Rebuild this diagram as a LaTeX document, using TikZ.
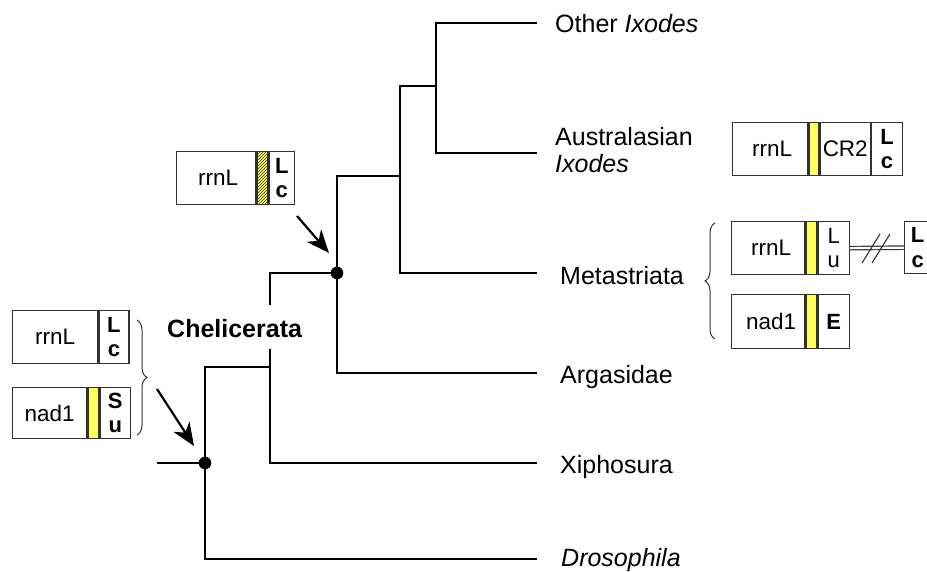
\documentclass[tikz,border=0pt]{standalone}
\usepackage{fontspec}
\setmainfont{Liberation Sans}
\usetikzlibrary{arrows.meta,decorations.pathreplacing,patterns}
\definecolor{gy}{RGB}{255,255,95}
\definecolor{bx}{RGB}{50,50,50}
\begin{document}
\begin{tikzpicture}[x=1pt,y=-1pt,
  tree/.style={line width=2.2pt, line join=miter},
  arr/.style={line width=2.2pt, -{Stealth[length=23pt,width=19pt,inset=7pt]}},
  lab/.style={anchor=base west, inner sep=0pt, font=\fontsize{25}{28}\selectfont},
  cell/.style={draw=bx, line width=1.3pt, minimum height=53pt, inner sep=0pt, anchor=north west, font=\fontsize{22.5}{26}\selectfont},
  yel/.style={cell, fill=gy, minimum width=11pt},
  hatch/.style={cell, fill=gy, minimum width=11pt, postaction={pattern=north east lines, pattern color=black!80}},
  bold/.style={cell, align=center, font=\bfseries\fontsize{22}{24.5}\selectfont},
  plain2/.style={cell, align=center, font=\fontsize{22}{24.5}\selectfont},
  brc/.style={draw=bx, line width=1pt, decorate, decoration={brace, amplitude=10pt}}]
\useasboundingbox (0,0) rectangle (927,571);
\clip (0,0) rectangle (927,571);

% tree coordinates
\coordinate (stub) at (157,463);
\coordinate (root) at (205,463);
\coordinate (chelj) at (270,367);
\coordinate (cgapA) at (270,305);
\coordinate (cgapB) at (270,349);
\coordinate (tick) at (337,273);
\coordinate (ixj) at (400,176);
\coordinate (ixoj) at (436,86);
\coordinate (eOther) at (537,23);
\coordinate (eAus) at (537,153);
\coordinate (eMeta) at (537,273);
\coordinate (eArg) at (537,373);
\coordinate (eXiph) at (537,463);
\coordinate (eDros) at (537,559);

% labels
\node[lab] (lOther) at (555,32) {Other \textit{Ixodes}};
\node[lab] (lAus) at (555,145) {Australasian};
\node[lab] (lAus2) at (555,172) {\textit{Ixodes}};
\node[lab] (lMeta) at (560,284) {Metastriata};
\node[lab] (lArg) at (560,383) {Argasidae};
\node[lab] (lXiph) at (560,473) {Xiphosura};
\node[lab] (lDros) at (561,566) {\textit{Drosophila}};
\node[lab, font=\bfseries\fontsize{25}{28}\selectfont] (lChel) at (167,337) {Chelicerata};

% tree
\draw[tree] (stub) -- (root);
\draw[tree] (chelj) -| (root) |- (eDros);
\draw[tree] (tick) -| (cgapA);
\draw[tree] (cgapB) |- (eXiph);
\draw[tree] (ixj) -| (tick) |- (eArg);
\draw[tree] (ixoj) -| (ixj) |- (eMeta);
\draw[tree] (eOther) -| (ixoj) |- (eAus);
\fill (tick) circle (6.3pt);
\fill (root) circle (6.3pt);

% arrows
\coordinate (a1s) at (297,216);
\coordinate (a1e) at (329,253);
\coordinate (a2s) at (157,389);
\coordinate (a2e) at (194,446);
\draw[arr] (a1s) -- (a1e);
\draw[arr] (a2s) -- (a2e);

% box above tick
\node[cell, minimum width=79pt] (b1a) at (176,151) {\hspace{4pt}rrnL};
\node[hatch] (b1b) at (b1a.north east) {};
\node[bold, minimum width=25pt] (b1c) at (b1b.north east) {L\\c};

% Australasian box
\node[cell, minimum width=75pt] (b2a) at (732,122) {\hspace{4pt}rrnL};
\node[yel, minimum width=10pt] (b2b) at (b2a.north east) {};
\node[cell, minimum width=50pt] (b2c) at (b2b.north east) {CR2};
\node[bold, minimum width=31pt] (b2d) at (b2c.north east) {L\\c};

% Metastriata boxes
\node[cell, minimum width=73pt] (m1a) at (731,221) {\hspace{6pt}rrnL};
\node[yel] (m1b) at (m1a.north east) {};
\node[plain2, minimum width=31pt] (m1c) at (m1b.north east) {L\\u};
\node[bold, minimum width=31pt, minimum height=52pt] (rb) at (904,221) {\hspace{-5pt}L\\\hspace{-5pt}c};
\node[cell, minimum width=73pt, minimum height=54pt] (m2a) at (731,294) {\hspace{6pt}nad1};
\node[yel, minimum height=54pt] (m2b) at (m2a.north east) {};
\node[bold, minimum width=31pt, minimum height=54pt] (m2c) at (m2b.north east) {E};
\draw[line width=1.2pt, draw=bx, double=white, double distance=2.2pt] (m1c.east) -- (rb.west);
\coordinate (s1a) at (862,263); \coordinate (s1b) at (880,234);
\coordinate (s2a) at (872,263); \coordinate (s2b) at (890,234);
\draw[line width=1.1pt, draw=bx] (s1a) -- (s1b);
\draw[line width=1.1pt, draw=bx] (s2a) -- (s2b);
\draw[brc] (715,339) -- (715,223);

% left boxes
\node[cell, minimum width=85pt] (l1a) at (12,310) {rrnL};
\node[bold, minimum width=30pt] (l1b) at (l1a.north east) {L\\c};
\node[cell, minimum width=74pt, minimum height=51pt] (l2a) at (12,387) {nad1};
\node[yel, minimum height=51pt] (l2b) at (l2a.north east) {};
\node[bold, minimum width=30pt, minimum height=51pt] (l2c) at (l2b.north east) {S\\u};
\draw[brc] (137,320) -- (137,435);
\end{tikzpicture}
\end{document}
